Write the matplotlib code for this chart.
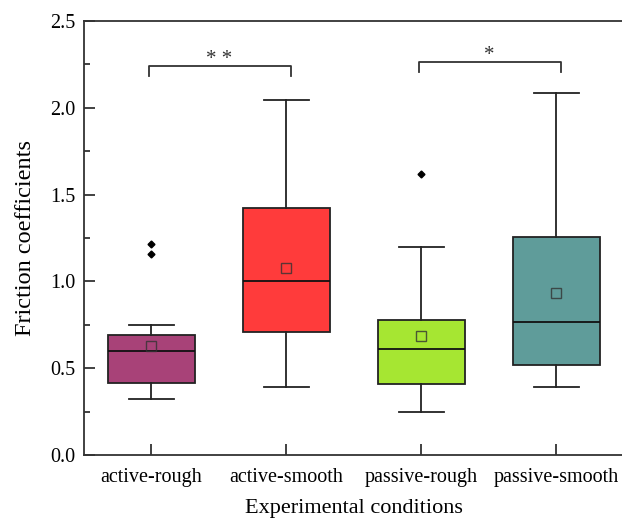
import matplotlib
matplotlib.use('Agg')
from matplotlib import pyplot as plt
from matplotlib.ticker import MultipleLocator

plt.rcParams['font.family'] = ['Liberation Serif', 'DejaVu Serif']

# box statistics
conditions = ['active-rough', 'active-smooth', 'passive-rough', 'passive-smooth']
whislo = [0.32, 0.39, 0.25, 0.39]
q1 = [0.415, 0.71, 0.41, 0.52]
med = [0.60, 1.00, 0.61, 0.765]
q3 = [0.69, 1.42, 0.775, 1.255]
whishi = [0.75, 2.045, 1.20, 2.085]
means = [0.625, 1.078, 0.688, 0.935]
outliers = [[1.155, 1.217], [], [1.62], []]
colors = ['#A84278', '#FF3B3B', '#A6E632', '#5F9C9A']

# significance brackets: (left box, right box, bar height, label)
brackets = [(1, 2, 2.24, '* *'), (3, 4, 2.265, '*')]

stats = []
for i in range(len(conditions)):
    stats.append(dict(label=conditions[i], whislo=whislo[i], q1=q1[i], med=med[i],
                      q3=q3[i], whishi=whishi[i], mean=means[i], fliers=outliers[i]))

fig = plt.figure(figsize=(6.22, 5.23), dpi=100)
ax = fig.add_axes([0.135, 0.130, 0.868, 0.830])

bp = ax.bxp(stats, positions=[1, 2, 3, 4], widths=0.64, patch_artist=True,
            showmeans=True, showfliers=True,
            boxprops=dict(linewidth=1.3, edgecolor='#222222'),
            medianprops=dict(color='#111111', linewidth=1.3),
            whiskerprops=dict(color='#222222', linewidth=1.3),
            capprops=dict(color='#222222', linewidth=1.3),
            capwidths=0.33,
            meanprops=dict(marker='s', markerfacecolor='none', markeredgecolor='#333333',
                           markersize=7, markeredgewidth=1.0, alpha=0.8),
            flierprops=dict(marker='D', markerfacecolor='black', markeredgecolor='black',
                            markersize=3.5))
for patch, c in zip(bp['boxes'], colors):
    patch.set_facecolor(c)

for x1, x2, y, label in brackets:
    ax.plot([x1 - 0.015, x1 - 0.015, x2 + 0.035, x2 + 0.035], [y - 0.06, y, y, y - 0.06],
            color='#333333', linewidth=1.3)
    ax.text((x1 + x2) / 2, y + 0.035, label, ha='center', va='center', fontsize=15,
            color='#333333')

ax.set_xlim(0.5, 4.5)
ax.set_ylim(0, 2.5)
ax.yaxis.set_major_locator(MultipleLocator(0.5))
ax.yaxis.set_minor_locator(MultipleLocator(0.25))
ax.yaxis.set_major_formatter(matplotlib.ticker.FormatStrFormatter('%.1f'))
ax.set_xticks([1, 2, 3, 4])
ax.set_xticklabels(conditions)
ax.tick_params(axis='both', which='major', direction='in', length=8, width=1.3,
               labelsize=14.5, color='#333333')
ax.tick_params(axis='y', which='minor', direction='in', length=4, width=1.3, color='#333333')
ax.tick_params(axis='x', pad=9)
ax.tick_params(axis='y', pad=6)

for s in ['left', 'bottom', 'top']:
    ax.spines[s].set_linewidth(1.3)
    ax.spines[s].set_color('#333333')
ax.spines['right'].set_visible(False)

ax.set_xlabel('Experimental conditions', fontsize=16, labelpad=9)
ax.set_ylabel('Friction coefficients', fontsize=17.5, labelpad=10)

fig.savefig('out.png', dpi=100)
